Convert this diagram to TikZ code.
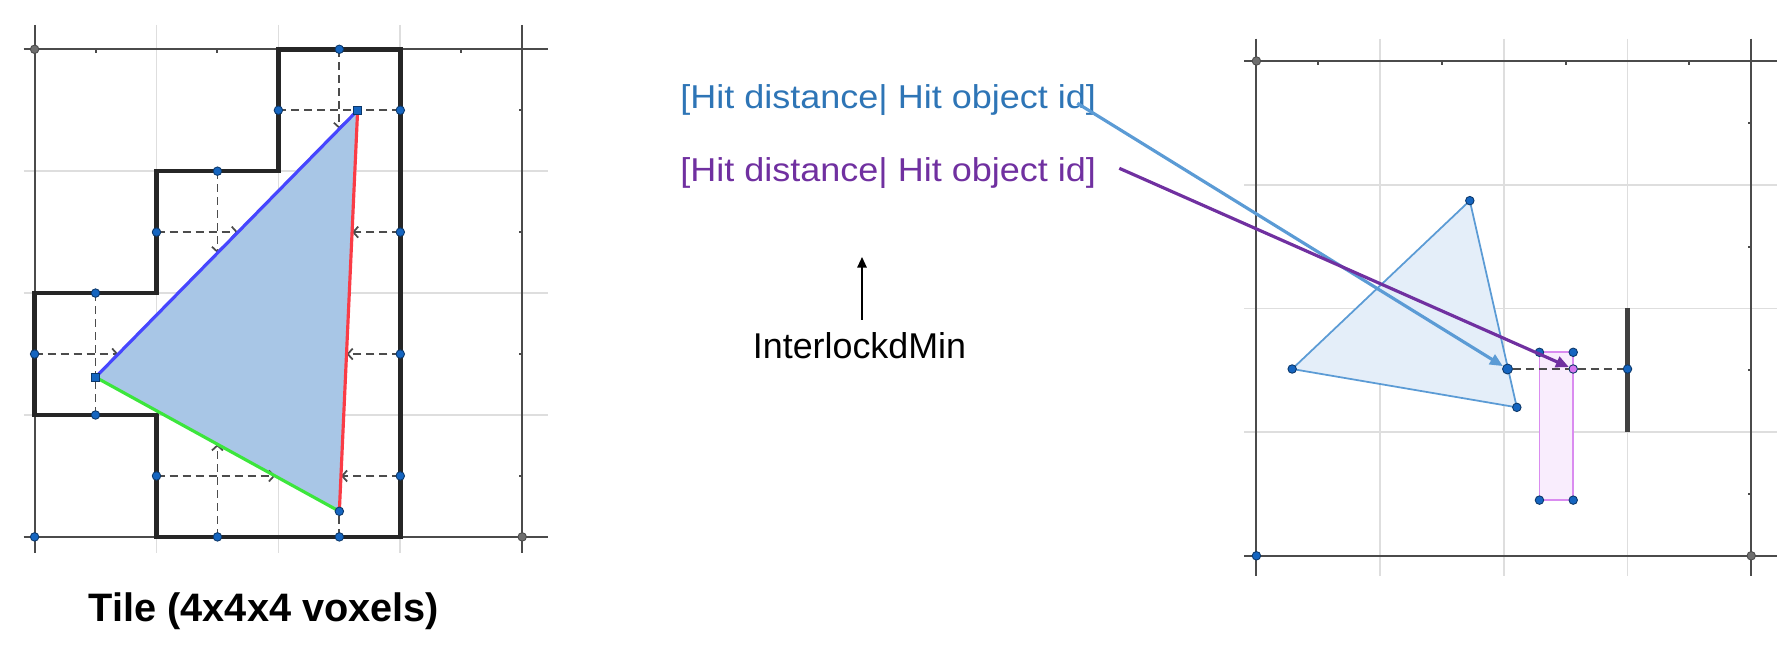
\documentclass[tikz,border=0pt]{standalone}
\usepackage{fontspec}
\setmainfont{Liberation Sans}
\newfontfamily\widesans[FakeStretch=1.09]{Liberation Sans}
\usetikzlibrary{arrows.meta}

\definecolor{gridgray}{RGB}{222,222,222}
\definecolor{axisgray}{RGB}{75,75,75}
\definecolor{ggblue}{RGB}{21,101,192}
\definecolor{tilefill}{RGB}{168,198,230}
\definecolor{edgeblue}{RGB}{70,70,255}
\definecolor{edgered}{RGB}{250,60,70}
\definecolor{edgegreen}{RGB}{60,230,60}
\definecolor{rayblue}{RGB}{91,155,213}
\definecolor{textblue}{RGB}{46,117,182}
\definecolor{raypurple}{RGB}{112,48,160}
\definecolor{trifill}{RGB}{228,238,249}
\definecolor{boxfill}{RGB}{249,237,253}
\definecolor{boxline}{RGB}{218,140,240}
\definecolor{hitpink}{RGB}{214,120,240}

\begin{document}
\begin{tikzpicture}[
    gridline/.style={gridgray, line width=0.5pt},
    axisline/.style={axisgray, line width=0.55pt},
    dot/.style={circle, fill=ggblue, draw=ggblue!55!black, line width=0.25pt, inner sep=0pt, minimum size=0.085cm},
    sqdot/.style={rectangle, fill=ggblue, draw=ggblue!55!black, line width=0.25pt, inner sep=0pt, minimum size=0.075cm},
    corner/.style={dot, fill=axisgray!80, draw=axisgray},
    probe/.style={dashed, dash pattern=on 0.8mm off 0.5mm, black!70, line width=0.5pt},
    voxel/.style={black!85, line width=1.3pt, line join=miter},
    ray/.style={line width=0.9pt, -{Triangle[length=1.3mm, width=1.1mm]}},
    label/.style={anchor=base west, inner sep=0pt, font=\widesans\fontsize{9.4}{11}\selectfont}
]
\useasboundingbox (0,0) rectangle (17.91,-6.48);

% Tile (left)
\begin{scope}[shift={(0.346,-0.493)}, x=1.219cm, y=-1.219cm]
\foreach \i in {1,2,3} {
    \draw[gridline] (\i,-0.2) -- (\i,4.13);
    \draw[gridline] (-0.09,\i) -- (4.21,\i);
}
\draw[axisline] (-0.09,0) -- (4.21,0);
\draw[axisline] (-0.09,4) -- (4.21,4);
\draw[axisline] (0,-0.2) -- (0,4.13);
\draw[axisline] (4,-0.2) -- (4,4.13);
\foreach \t in {0.5,1.5,2.5,3.5} {
    \draw[axisline] (\t,0) -- (\t,0.03);
    \draw[axisline] (4,\t) -- (3.97,\t);
}
\draw[voxel] (2,0) -- (3,0) -- (3,4) -- (1,4) -- (1,3) -- (0,3) -- (0,2) -- (1,2) -- (1,1) -- (2,1) -- cycle;

\coordinate (ta) at (2.65,0.5);
\coordinate (tb) at (0.5,2.69);
\coordinate (tc) at (2.5,3.79);
\fill[tilefill] (ta) -- (tb) -- (tc) -- cycle;

% face centers to triangle edges
\foreach \n/\fx/\fy/\hx/\hy in {1/2.5/0/2.5/0.653, 2/1.5/1/1.5/1.671, 3/1/1.5/1.668/1.5,
    4/3/1.5/2.604/1.5, 5/0/2.5/0.687/2.5, 6/3/2.5/2.559/2.5, 7/1.5/4/1.5/3.24,
    8/1/3.5/1.973/3.5, 9/3/3.5/2.513/3.5} {
    \coordinate (f\n) at (\fx,\fy);
    \coordinate (h\n) at (\hx,\hy);
    \draw[probe, -{Straight Barb[length=0.5mm, width=1.1mm]}] (f\n) -- (h\n);
    \node[dot] at (f\n) {};
}
% face centers to triangle corners
\foreach \n/\fx/\fy/\v in {1/2/0.5/ta, 2/3/0.5/ta, 3/0.5/2/tb, 4/0.5/3/tb, 5/2.5/4/tc} {
    \coordinate (g\n) at (\fx,\fy);
    \draw[probe] (g\n) -- (\v);
    \node[dot] at (g\n) {};
}
\draw[edgeblue, line width=0.9pt] (tb) -- (ta);
\draw[edgered, line width=0.9pt] (ta) -- (tc);
\draw[edgegreen, line width=0.9pt] (tb) -- (tc);
\node[sqdot] at (ta) {};
\node[sqdot] at (tb) {};
\node[dot] at (tc) {};
\node[corner] at (0,0) {};
\node[corner] at (4,4) {};
\node[dot] at (0,4) {};
\end{scope}
\node[font=\fontsize{11.3}{13}\selectfont\bfseries, anchor=base] (tilecap) at (2.64,-6.215) {Tile (4x4x4 voxels)};

% Labels (middle)
\node[label, textblue] (hitblue) at (6.796,-1.085) {[Hit distance| Hit object id]};
\node[label, raypurple] (hitpurple) at (6.796,-1.815) {[Hit distance| Hit object id]};
\node[font=\fontsize{10.2}{12}\selectfont, anchor=base] (interlock) at (8.595,-3.583) {InterlockdMin};
\coordinate (imtip) at (8.62,-2.567);
\draw[line width=0.8pt, -{Triangle[length=1.1mm, width=0.9mm]}] (interlock.north -| imtip) -- (imtip);

% Ray hits (right)
\begin{scope}[shift={(12.564,-0.61)}, x=1.237cm, y=-1.237cm]
\foreach \i in {1,2,3} {
    \draw[gridline] (\i,-0.18) -- (\i,4.16);
    \draw[gridline] (-0.1,\i) -- (4.21,\i);
}
\draw[axisline] (-0.1,0) -- (4.21,0);
\draw[axisline] (-0.1,4) -- (4.21,4);
\draw[axisline] (0,-0.18) -- (0,4.16);
\draw[axisline] (4,-0.18) -- (4,4.16);
\foreach \t in {0.5,1.5,2.5,3.5} {
    \draw[axisline] (\t,0) -- (\t,0.03);
    \draw[axisline] (4,\t) -- (3.97,\t);
}
\coordinate (ra) at (1.725,1.129);
\coordinate (rb) at (0.289,2.49);
\coordinate (rc) at (2.105,2.80);
\draw[rayblue, line width=0.5pt, fill=trifill] (ra) -- (rb) -- (rc) -- cycle;
\draw[boxline, fill=boxfill, line width=0.5pt] (2.288,2.355) rectangle (2.561,3.55);
\draw[black!75, line width=1.4pt] (3,2) -- (3,3);
\node[dot, minimum size=0.1cm] (hitA) at (2.03,2.49) {};
\node[dot, fill=hitpink] (hitB) at (2.561,2.49) {};
\node[dot] (wall) at (3,2.49) {};
\draw[probe, line width=0.8pt] (hitA) -- (hitB);
\draw[probe, line width=0.8pt] (hitB) -- (wall);
\foreach \p in {ra,rb,rc} \node[dot] at (\p) {};
\foreach \x/\y in {2.288/2.355, 2.561/2.355, 2.288/3.55, 2.561/3.55} \node[dot] at (\x,\y) {};
\node[corner] at (0,0) {};
\node[corner] at (4,4) {};
\node[dot] at (0,4) {};
\end{scope}

\coordinate (bstart) at (10.773,-1.033);
\coordinate (pstart) at (11.193,-1.683);
\draw[ray, rayblue] (bstart) -- (hitA);
\draw[ray, raypurple] (pstart) -- (hitB);
\end{tikzpicture}
\end{document}
